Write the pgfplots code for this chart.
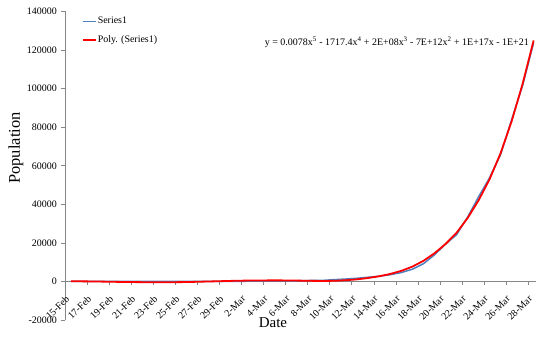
\documentclass[border=0pt]{standalone}
\usepackage{fontspec}
\setmainfont{Liberation Serif}
\usepackage{pgfplots}
\pgfplotsset{compat=1.18}
\definecolor{exblue}{RGB}{79,129,189}
\definecolor{axgray}{RGB}{134,134,134}

\pgfplotstableread{
d cases
0 15
1 15
2 15
3 15
4 15
5 15
6 35
7 35
8 35
9 53
10 53
11 59
12 60
13 62
14 70
15 76
16 101
17 122
18 153
19 221
20 278
21 417
22 537
23 605
24 959
25 1281
26 1663
27 2179
28 2726
29 3499
30 4632
31 6344
32 9197
33 13779
34 19367
35 24192
36 33276
37 43847
38 53740
39 65778
40 83836
41 101657
42 123750
}\seriesone

\pgfplotstableread{
d fit
0 100
1 50
2 0
3 -100
4 -200
5 -300
6 -350
7 -400
8 -400
9 -400
10 -350
11 -250
12 -100
13 50
14 200
15 350
16 450
17 500
18 550
19 550
20 500
21 400
22 300
23 250
24 350
25 650
26 1100
27 1800
28 2700
29 3900
30 5500
31 7700
32 10700
33 14600
34 19400
35 25200
36 32800
37 42000
38 53000
39 66500
40 83000
41 102500
42 125000
}\polyfit

\begin{document}
\begin{tikzpicture}[x=1bp,y=1bp]
\path[use as bounding box] (0,0) rectangle (536,336);
\begin{axis}[
  at={(65.3bp,16bp)}, anchor=south west,
  scale only axis, width=470.2bp, height=308.5bp,
  xmin=-0.5, xmax=42.17, ymin=-20000, ymax=140000,
  axis y line=left, axis x line=middle,
  hide obscured x ticks=false,
  axis line style={axgray, line width=0.7pt, -},
  every tick/.style={axgray, line width=0.7pt},
  tick align=outside,
  major tick length=4bp,
  scaled y ticks=false,
  ytick={-20000,0,20000,40000,60000,80000,100000,120000,140000},
  yticklabels={-20000,0,20000,40000,60000,80000,100000,120000,140000},
  yticklabel style={font=\fontsize{10}{12}\selectfont, text=black, xshift=-1bp},
  xtick={-0.5,1.5,...,41.5},
  xticklabels={15-Feb,17-Feb,19-Feb,21-Feb,23-Feb,25-Feb,27-Feb,29-Feb,2-Mar,4-Mar,6-Mar,8-Mar,10-Mar,12-Mar,14-Mar,16-Mar,18-Mar,20-Mar,22-Mar,24-Mar,26-Mar,28-Mar},
  xticklabel style={font=\fontsize{10}{12}\selectfont, text=black, anchor=east, xshift=3bp, yshift=-11bp, rotate=45, inner sep=1pt},
  legend style={at={(0.035,0.985)}, anchor=north west, draw=none, fill=none,
    font=\fontsize{10}{12}\selectfont, row sep=8bp, inner sep=0pt,
    nodes={inner sep=1pt, anchor=west}},
  legend cell align=left,
  clip=false,
]
\addplot[exblue, line width=1.5bp, mark=none, legend image code/.code={\draw[exblue, line width=1.5bp] (0bp,0bp) -- (13bp,0bp);}] table[x=d, y=cases] {\seriesone};
\addlegendentry{Series1}
\addplot[red, line width=1.8bp, mark=none, legend image code/.code={\draw[red, line width=1.8bp] (0bp,0bp) -- (13bp,0bp);}] table[x=d, y=fit] {\polyfit};
\addlegendentry{Poly. (Series1)}
\end{axis}
\node[anchor=east, font=\fontsize{10}{12}\selectfont, inner sep=0pt] at (529,294) {y = 0.0078x\textsuperscript{5} - 1717.4x\textsuperscript{4} + 2E+08x\textsuperscript{3} - 7E+12x\textsuperscript{2} + 1E+17x - 1E+21};
\node[font=\fontsize{15}{17}\selectfont, inner sep=0pt] at (273,13) {Date};
\node[font=\fontsize{16.5}{18}\selectfont, inner sep=0pt, rotate=90] at (16,188) {Population};
\end{tikzpicture}
\end{document}
